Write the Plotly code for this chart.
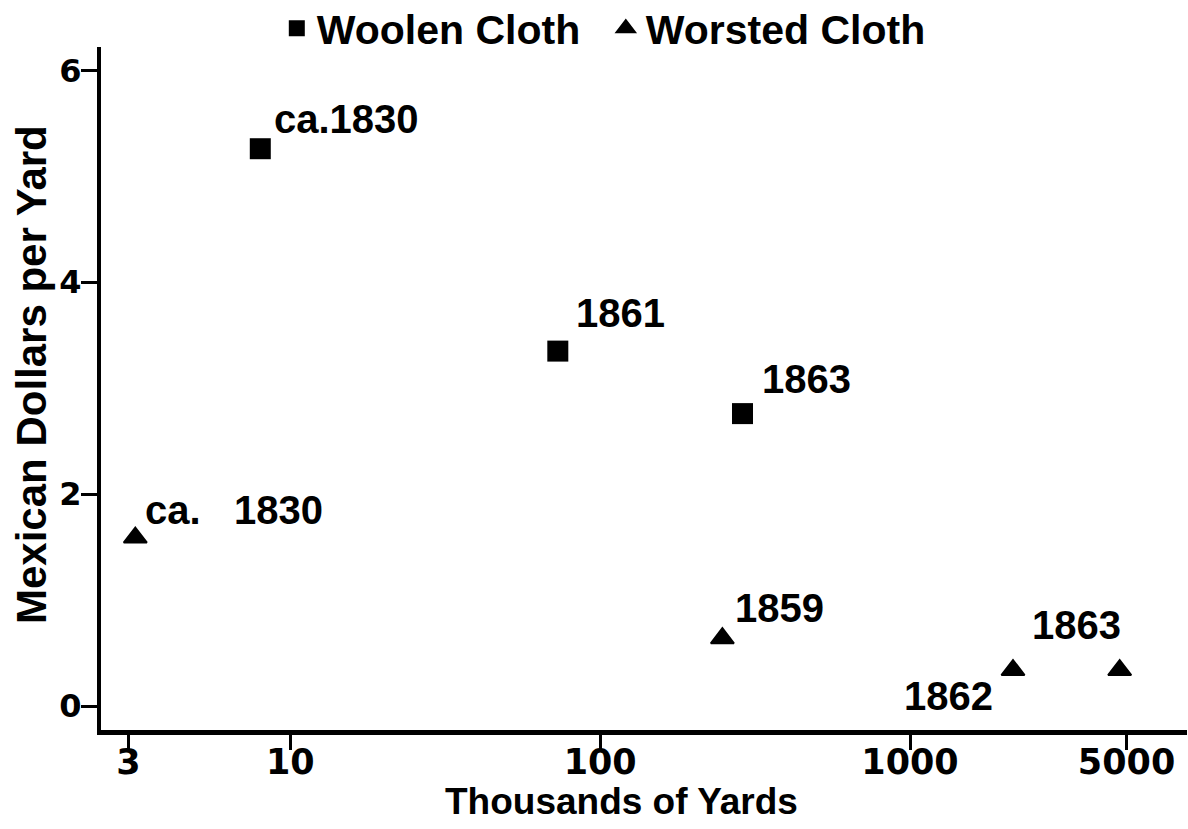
import math
import plotly.graph_objects as go

# Data (thousands of yards, Mexican dollars per yard)
woolen_x = [8.0, 73, 288]
woolen_y = [5.26, 3.35, 2.76]
woolen_labels = ["ca.1830", "1861", "1863"]

worsted_x = [3.16, 248, 2150, 4750]
worsted_y = [1.59, 0.64, 0.34, 0.34]
worsted_labels = ["ca.\u00a0\u00a0\u00a01830", "1859", "1862", "1863"]

x_tickvals = [3, 10, 100, 1000, 5000]
x_ticktext = ["3", "10", "100", "1000", "5000"]
y_tickvals = [0, 2, 4, 6]

x_title = "Thousands of Yards"
y_title = "Mexican Dollars per Yard"

# label placement (pixel offsets from marker: anchor, dx, dy)
woolen_offsets = [("left", 12, 30), ("left", 16, 38), ("left", 17, 35)]
worsted_offsets = [("left", 8, 28), ("left", 11, 30), ("right", -18, -26), ("center", -43, 45)]

FONT = "Liberation Sans, Arial, sans-serif"
NUMFONT = "DejaVu Sans, sans-serif"

fig = go.Figure()
fig.add_trace(go.Scatter(
    x=woolen_x, y=woolen_y, mode="markers", name="Woolen Cloth",
    marker=dict(symbol="square", size=21, color="black"),
))
fig.add_trace(go.Scatter(
    x=worsted_x, y=worsted_y, mode="markers", name="Worsted Cloth",
    marker=dict(symbol="triangle-up", size=20, color="black",
                line=dict(color="black", width=2)),
))

annotations = []
for xs, ys, labs, offs in [(woolen_x, woolen_y, woolen_labels, woolen_offsets),
                           (worsted_x, worsted_y, worsted_labels, worsted_offsets)]:
    for xv, yv, lab, (anc, dx, dy) in zip(xs, ys, labs, offs):
        annotations.append(dict(
            x=math.log10(xv), y=yv, xref="x", yref="y", text=lab, showarrow=False,
            xanchor=anc, yanchor="middle", xshift=dx, yshift=dy,
            font=dict(family=FONT, size=40, color="black", weight="bold"),
        ))

# axis titles (placed as in the original, slightly off the plot centre)
annotations.append(dict(
    x=0.4797, y=-0.104, xref="paper", yref="paper", text=x_title, showarrow=False,
    xanchor="center", yanchor="middle",
    font=dict(family=FONT, size=37, color="black", weight="bold"),
))
annotations.append(dict(
    x=-0.0635, y=0.5198, xref="paper", yref="paper", text=y_title, showarrow=False,
    xanchor="center", yanchor="middle", textangle=-90,
    font=dict(family=FONT, size=42, color="black", weight="bold"),
))

fig.update_layout(
    width=1188, height=829,
    paper_bgcolor="white", plot_bgcolor="white",
    margin=dict(l=101, r=1, t=47, b=99, autoexpand=False),
    font=dict(family=FONT, color="black"),
    showlegend=True,
    legend=dict(
        orientation="h", xref="container", yref="paper",
        x=0.233, xanchor="left", y=1.076, yanchor="top",
        font=dict(family=FONT, size=41, color="black", weight="bold"),
        itemsizing="trace", tracegroupgap=0, itemwidth=30,
        entrywidth=284, entrywidthmode="pixels",
        bgcolor="rgba(0,0,0,0)",
    ),
    annotations=annotations,
)

fig.update_xaxes(
    type="log", range=[0.389, 3.894], automargin=False,
    tickvals=x_tickvals, ticktext=x_ticktext,
    showgrid=False, zeroline=False,
    showline=True, linecolor="black", linewidth=5,
    ticks="outside", ticklen=15, tickwidth=3, tickcolor="black",
    ticklabelstandoff=-18,
    tickfont=dict(family=NUMFONT, size=35, color="black", weight="bold"),
)
fig.update_yaxes(
    range=[-0.226, 6.22], automargin=False,
    tickvals=y_tickvals,
    showgrid=False, zeroline=False,
    showline=True, linecolor="black", linewidth=4,
    ticks="outside", ticklen=16, tickwidth=3, tickcolor="black",
    ticklabelstandoff=-7,
    tickfont=dict(family=NUMFONT, size=32, color="black", weight="bold"),
)

fig.write_html("out.html", config={"displayModeBar": False},
               post_script="document.body.style.margin='0';")
